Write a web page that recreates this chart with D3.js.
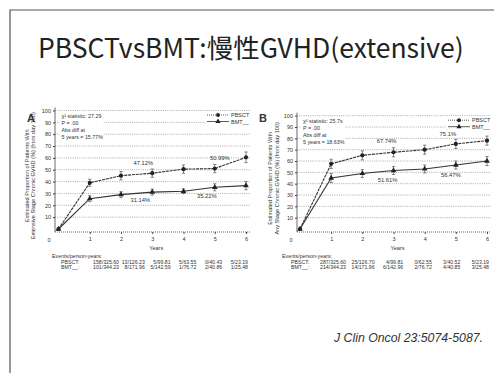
<!DOCTYPE html>
<html>
<head>
<meta charset="utf-8">
<script src="https://cdn.jsdelivr.net/npm/d3@7"></script>
<style>
  html, body { margin: 0; padding: 0; background: #fff; }
  svg { display: block; }
  .chart text { font-family: "Liberation Sans", Arial, sans-serif; fill: #333; }
</style>
</head>
<body>
<svg id="slide" width="494" height="373"></svg>
<script>
// ---- data ----
const years = [0, 1, 2, 3, 4, 5, 6];
const seriesNames = ["PBSCT", "BMT"];

// Panel A: extensive-stage chronic GVHD (%)
const pbsctA = [0, 39, 45, 47.12, 50.5, 50.99, 60.5];
const bmtA = [0, 25.6, 29, 31.14, 31.8, 35.22, 36.6];
const pbsctErrA = [0, 3, 3.5, 3.5, 3.5, 3.5, 4.5];
const bmtErrA = [0, 2.5, 2.5, 2.5, 2, 3, 3.5];
const statsA = ["χ² statistic: 27.29", "P = .00", "Abs diff at", "5 years = 15.77%"];
const eventsPbsctA = ["158/325.60", "13/126.23", "5/99.81", "5/63.55", "0/40.43", "5/23.19"];
const eventsBmtA = ["101/344.23", "8/171.96", "5/142.59", "1/76.72", "2/40.86", "1/25.48"];

// Panel B: any-stage chronic GVHD (%)
const pbsctB = [0, 57.5, 65, 67.74, 70, 75.1, 78];
const bmtB = [0, 45, 49, 51.61, 53, 56.47, 60];
const pbsctErrB = [0, 4, 4, 4, 4, 4, 4];
const bmtErrB = [0, 4, 3.5, 3.5, 3.5, 3.5, 4];
const statsB = ["χ² statistic: 25.7s", "P = .00", "Abs diff at", "5 years = 18.63%"];
const eventsPbsctB = ["287/325.60", "25/126.70", "4/99.81", "0/62.55", "3/40.52", "5/23.19"];
const eventsBmtB = ["214/344.23", "14/171.96", "6/142.96", "2/76.72", "4/40.85", "3/25.48"];

const yTicks = [10, 20, 30, 40, 50, 60, 70, 80, 90, 100];
const xTicks = [1, 2, 3, 4, 5, 6];

const svg = d3.select("#slide");

// slide frame (left and top edges visible)
svg.append("path").attr("d", "M10,373 L10,10 L494,10")
  .attr("fill", "none").attr("stroke", "#555").attr("stroke-width", 1.2);

// slide title
svg.append("text")
  .attr("x", 38).attr("y", 58)
  .attr("font-family", "'Noto Sans CJK JP', 'Noto Sans', sans-serif")
  .attr("font-size", 26.5).attr("fill", "#222")
  .text("PBSCTvsBMT:慢性GVHD(extensive)");

// citation
svg.append("text")
  .attr("x", 483).attr("y", 342).attr("text-anchor", "end")
  .attr("font-family", "'Liberation Sans', Arial, sans-serif")
  .attr("font-style", "italic").attr("font-size", 12.3).attr("fill", "#333")
  .text("J Clin Oncol 23:5074-5087.");

function drawPanel(cfg) {
  const g = svg.append("g").attr("class", "chart");
  const x = d3.scaleLinear().domain([0, 6]).range(cfg.xRange);
  const y = d3.scaleLinear().domain([0, 100]).range(cfg.yRange);
  const axisX = cfg.axisX;
  const right = x(6) + 4;

  // gridlines
  g.append("g").selectAll("line").data(yTicks).join("line")
    .attr("x1", axisX).attr("x2", right)
    .attr("y1", d => y(d)).attr("y2", d => y(d))
    .attr("stroke", "#888").attr("stroke-width", 0.7)
    .attr("stroke-dasharray", "1,1.2");

  // y axis
  const yAxis = d3.axisLeft(y).tickValues(yTicks).tickSize(2).tickPadding(2);
  const ya = g.append("g").attr("transform", `translate(${axisX},0)`).call(yAxis);
  ya.select(".domain").attr("stroke", "#444").attr("stroke-width", 0.8)
    .attr("d", `M0,${y(100) - 3}V${y(0) + 3}`);
  ya.selectAll(".tick line").attr("stroke", "#444");
  ya.selectAll(".tick text").attr("font-size", 5.5).attr("fill", "#333")
    .attr("font-family", "'Liberation Sans', Arial, sans-serif");

  // x axis (dotted base line)
  const baseY = y(0) + 3;
  const xAxis = d3.axisBottom(x).tickValues(xTicks).tickFormat(d3.format("d"))
    .tickSize(2).tickPadding(3);
  const xa = g.append("g").attr("transform", `translate(0,${baseY})`).call(xAxis);
  xa.select(".domain").attr("stroke", "#444").attr("stroke-width", 0.8)
    .attr("stroke-dasharray", "1,1").attr("d", `M${axisX},0H${right}`);
  xa.selectAll(".tick line").attr("stroke", "#444");
  xa.selectAll(".tick text").attr("font-size", 5.5).attr("fill", "#333")
    .attr("font-family", "'Liberation Sans', Arial, sans-serif");
  g.append("text").attr("x", axisX - 6).attr("y", baseY + 10)
    .attr("font-size", 5.5).attr("text-anchor", "middle").text("0");
  g.append("text").attr("x", (x(0) + x(6)) / 2 + 4).attr("y", baseY + 18)
    .attr("font-size", 5.5).attr("text-anchor", "middle").text("Years");

  // y axis title
  cfg.yTitle.forEach((t, i) => {
    const tx = cfg.yTitleX[i];
    g.append("text")
      .attr("transform", `translate(${tx},${(y(0) + y(100)) / 2 + 6}) rotate(-90)`)
      .attr("text-anchor", "middle").attr("font-size", 5.6).text(t);
  });

  // panel letter
  g.append("text").attr("x", cfg.letterPos[0]).attr("y", cfg.letterPos[1])
    .attr("font-size", 11).attr("font-weight", "bold").attr("fill", "#222")
    .text(cfg.letter);

  // statistics box
  const sb = g.append("g");
  sb.append("rect").attr("x", x(0) + 1).attr("y", y(100) + 2)
    .attr("width", 44).attr("height", 28).attr("fill", "#fff");
  cfg.stats.forEach((t, i) => {
    sb.append("text").attr("x", x(0) + 3).attr("y", y(100) + 7 + i * 7.2)
      .attr("font-size", 5.3).text(t);
  });

  // series lines, error bars and markers
  const series = [
    { name: seriesNames[0], vals: cfg.pbsct, err: cfg.pbsctErr, dash: "3,0.8", marker: "circle" },
    { name: seriesNames[1], vals: cfg.bmt, err: cfg.bmtErr, dash: null, marker: "triangle" }
  ];
  const line = d3.line().x((d, i) => x(years[i])).y(d => y(d));
  series.forEach(s => {
    g.append("path").datum(s.vals).attr("d", line)
      .attr("fill", "none").attr("stroke", "#333").attr("stroke-width", 1.1)
      .attr("stroke-dasharray", s.dash);
    const pts = years.map((yr, i) => ({ yr, v: s.vals[i], e: s.err[i] }));
    const eb = g.append("g").selectAll("g").data(pts.filter(p => p.e > 0)).join("g");
    eb.append("line").attr("x1", p => x(p.yr)).attr("x2", p => x(p.yr))
      .attr("y1", p => y(p.v - p.e)).attr("y2", p => y(p.v + p.e))
      .attr("stroke", "#555").attr("stroke-width", 0.7);
    ["+", "-"].forEach(sgn => {
      eb.append("line")
        .attr("x1", p => x(p.yr) - 1.6).attr("x2", p => x(p.yr) + 1.6)
        .attr("y1", p => y(sgn === "+" ? p.v + p.e : p.v - p.e))
        .attr("y2", p => y(sgn === "+" ? p.v + p.e : p.v - p.e))
        .attr("stroke", "#555").attr("stroke-width", 0.7);
    });
    const sym = d3.symbol().type(s.marker === "circle" ? d3.symbolCircle : d3.symbolTriangle).size(14);
    g.append("g").selectAll("path").data(pts).join("path")
      .attr("d", sym).attr("transform", p => `translate(${x(p.yr)},${y(p.v)})`)
      .attr("fill", "#222");
  });

  // value labels
  cfg.labels.forEach(l => {
    const vals = l.series === 0 ? cfg.pbsct : cfg.bmt;
    const v = vals[l.year];
    g.append("text").attr("x", x(l.year) + l.dx).attr("y", y(v) + l.dy)
      .attr("text-anchor", "middle").attr("font-size", 5.8)
      .text(d3.format(l.fmt)(v) + "%");
  });

  // legend
  const lg = g.append("g");
  lg.append("rect").attr("x", cfg.legendX - 2).attr("y", y(100) + 1)
    .attr("width", 50).attr("height", 13).attr("fill", "#fff");
  series.forEach((s, i) => {
    const ly = y(100) + 4.5 + i * 6.5;
    lg.append("line").attr("x1", cfg.legendX).attr("x2", cfg.legendX + 22)
      .attr("y1", ly).attr("y2", ly).attr("stroke", "#333").attr("stroke-width", 0.8)
      .attr("stroke-dasharray", i === 0 ? "1,1" : null);
    lg.append("path")
      .attr("d", d3.symbol().type(i === 0 ? d3.symbolCircle : d3.symbolTriangle).size(12))
      .attr("transform", `translate(${cfg.legendX + 11},${ly})`).attr("fill", "#222");
    lg.append("text").attr("x", cfg.legendX + 24).attr("y", ly + 2)
      .attr("font-size", 5.5).text(i === 0 ? s.name : s.name + "__");
  });

  // events / person-years table
  const tY = baseY + 26;
  const col = d3.scaleLinear().domain([0, 5]).range(cfg.colRange);
  g.append("text").attr("x", cfg.tableX).attr("y", tY).attr("font-size", 5.3)
    .text("Events/person-years:");
  [[seriesNames[0] + ":", cfg.evP], [seriesNames[1] + "__:", cfg.evB]].forEach((row, r) => {
    const ry = tY + 5.5 + r * 5.2;
    g.append("text").attr("x", cfg.tableX + 9).attr("y", ry).attr("font-size", 5.2).text(row[0]);
    row[1].forEach((t, c) => {
      g.append("text").attr("x", col(c)).attr("y", ry)
        .attr("text-anchor", "end").attr("font-size", 5.2).text(t);
    });
  });
}

drawPanel({
  letter: "A", letterPos: [27, 122],
  xRange: [58.5, 246], yRange: [229, 110.5], axisX: 55,
  yTitle: ["Estimated Proportion of Patients With", "Extensive Stage Chronic GVHD (%) (from day 100)"],
  yTitleX: [29, 35],
  stats: statsA, pbsct: pbsctA, bmt: bmtA, pbsctErr: pbsctErrA, bmtErr: bmtErrA,
  labels: [
    { series: 0, year: 3, dx: -9, dy: -8, fmt: ".2f" },
    { series: 0, year: 5, dx: 5, dy: -9, fmt: ".2f" },
    { series: 1, year: 3, dx: -12, dy: 10, fmt: ".2f" },
    { series: 1, year: 5, dx: -8, dy: 11, fmt: ".2f" }
  ],
  legendX: 207, tableX: 52, colRange: [119, 248],
  evP: eventsPbsctA, evB: eventsBmtA
});

drawPanel({
  letter: "B", letterPos: [259, 122],
  xRange: [300, 487], yRange: [229, 115.7], axisX: 297,
  yTitle: ["Estimated Proportion of Patients With", "Any Stage Chronic GVHD (%) (from day 100)"],
  yTitleX: [272, 279],
  stats: statsB, pbsct: pbsctB, bmt: bmtB, pbsctErr: pbsctErrB, bmtErr: bmtErrB,
  labels: [
    { series: 0, year: 3, dx: -7, dy: -9, fmt: ".2f" },
    { series: 0, year: 5, dx: -8, dy: -8, fmt: ".1f" },
    { series: 1, year: 3, dx: -6, dy: 11, fmt: ".2f" },
    { series: 1, year: 5, dx: -5, dy: 12, fmt: ".2f" }
  ],
  legendX: 448, tableX: 282, colRange: [346, 489],
  evP: eventsPbsctB, evB: eventsBmtB
});
</script>
</body>
</html>
